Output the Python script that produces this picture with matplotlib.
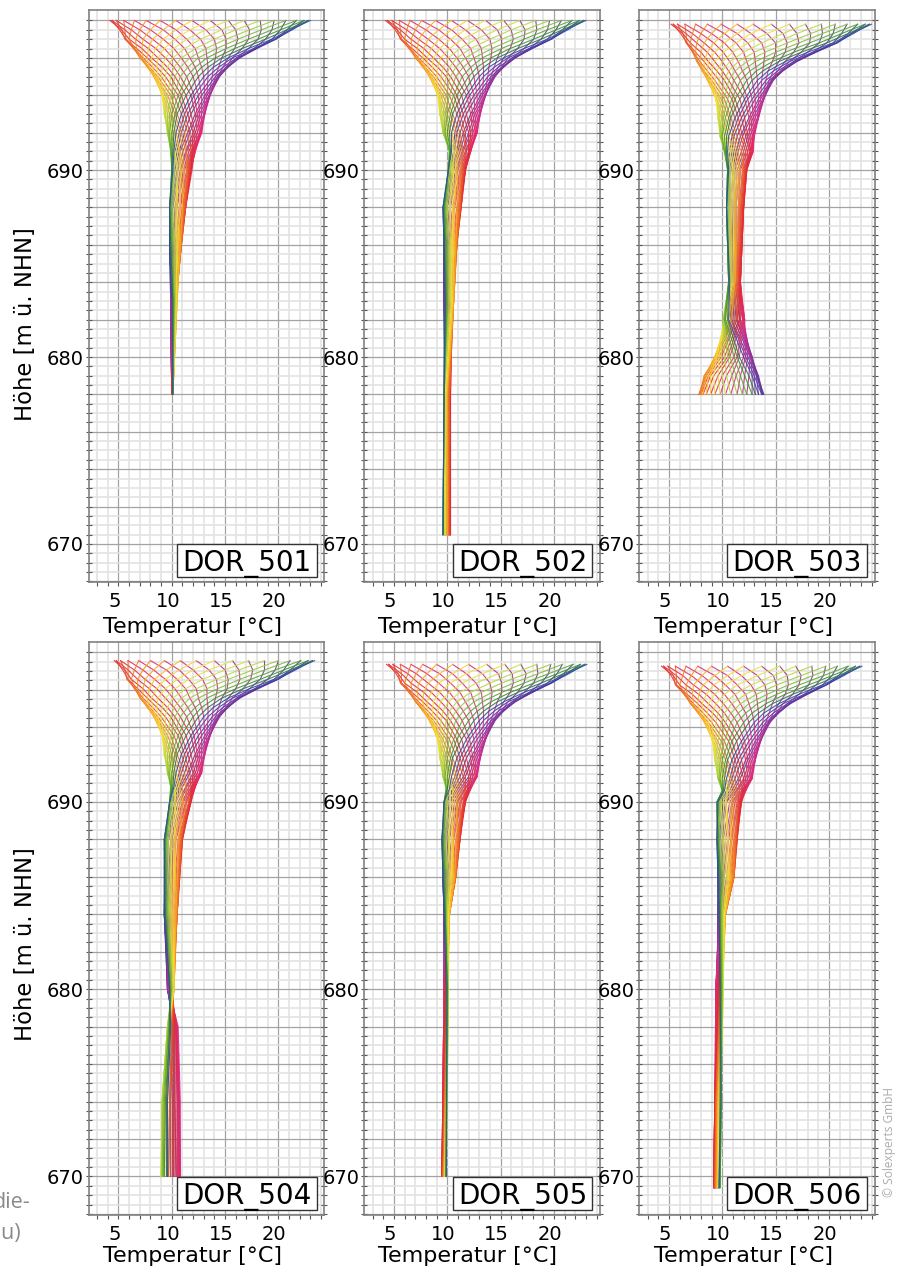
import matplotlib
matplotlib.use("Agg")
import matplotlib.pyplot as plt
from matplotlib.patches import Rectangle
from matplotlib.transforms import ScaledTranslation

W, H = 898, 1268

# Each row: temperature through the annual cycle (half cycle from coldest to warmest
# phase, the second half runs back again), read off the profile envelopes.
SHARED_DEPTHS = [0, 0.5, 1, 1.5, 2, 2.5, 3, 4, 5, 6]
SHARED_LAGS = [0, 1, 2, 3, 4, 5, 6, 8, 10, 12]
SHARED_ROWS = [
    [4.2,4.4,4.8,5.5,6.5,7.6,8.9,10.4,11.9,13.6,15.3,16.8,18.3,19.6,20.7,21.7,22.4,22.8,23.0],
    [5.1,5.3,5.6,6.2,7.0,8.0,9.2,10.4,11.7,13.2,14.7,16.0,17.3,18.4,19.4,20.2,20.8,21.1,21.3],
    [5.6,5.7,6.0,6.6,7.3,8.2,9.2,10.3,11.4,12.7,14.0,15.1,16.2,17.2,18.1,18.8,19.4,19.7,19.8],
    [6.4,6.5,6.7,7.2,7.8,8.5,9.3,10.2,11.2,12.2,13.2,14.2,15.1,15.9,16.6,17.2,17.7,17.9,18.0],
    [7.0,7.1,7.3,7.7,8.1,8.7,9.4,10.1,10.9,11.7,12.5,13.3,14.1,14.7,15.3,15.7,16.1,16.3,16.4],
    [7.7,7.8,7.9,8.2,8.6,9.1,9.6,10.2,10.8,11.5,12.2,12.8,13.4,13.9,14.4,14.8,15.1,15.2,15.3],
    [8.3,8.4,8.5,8.7,9.0,9.4,9.9,10.3,10.8,11.4,12.0,12.5,13.0,13.4,13.8,14.1,14.3,14.4,14.5],
    [9.1,9.1,9.2,9.4,9.6,9.9,10.2,10.6,10.9,11.35,11.8,12.1,12.5,12.8,13.1,13.3,13.5,13.6,13.6],
    [9.3,9.3,9.4,9.6,9.8,10.0,10.3,10.5,10.9,11.2,11.5,11.8,12.2,12.4,12.6,12.8,13.0,13.1,13.1],
    [9.6,9.6,9.7,9.8,10.0,10.2,10.4,10.7,10.9,11.2,11.5,11.7,12.0,12.2,12.4,12.6,12.7,12.8,12.8],
]

NAMES = ["DOR_501", "DOR_502", "DOR_503", "DOR_504", "DOR_505", "DOR_506"]
TOPS = [698.0, 698.0, 697.8, 697.55, 697.35, 697.25]
SHIFTS = [
    [0,0,0,0,0,0,0,0,0,0],
    [0,0,0,0,0,0,0,0,0,0],
    [1.0,1.0,1.0,0.8,0.6,0.4,0.3,0.3,0.3,0.2],
    [0.4,0.3,0.2,0.1,0,0,0,0,0,0],
    [0.1,0.1,0,0,0,0,0,0,0,0],
    [0.1,0.1,0,0,0,0,0,0,0,0],
]

DEEP_HEIGHTS = [
    [691, 690, 688, 686, 683, 678],
    [691, 690, 688, 686, 683, 678, 670.5],
    [691, 690, 688, 684, 682, 680, 679, 678],
    [690.8, 690, 688, 684, 680, 678, 674, 670],
    [690.7, 690, 688, 686, 684, 680, 670],
    [690.6, 690, 688, 686, 684, 680, 674, 669.4],
]
DEEP_LAGS = [
    [14, 16, 18, 20, 24, 28],
    [14, 16, 18, 20, 22, 15, 15],
    [14, 16, 16, 15, 12, 6, 4, 3],
    [14, 16, 18, 20, 24, 11, 11, 11],
    [14, 16, 18, 20, 22, 28, 33],
    [14, 16, 18, 20, 22, 28, 33, 33],
]
DEEP_ROWS = [
    [
        [9.9,9.9,10.0,10.1,10.2,10.3,10.5,10.7,10.8,11.05,11.3,11.4,11.6,11.8,11.9,12.0,12.1,12.2,12.2],
        [10.0,10.0,10.1,10.1,10.2,10.3,10.5,10.6,10.8,10.9,11.1,11.2,11.4,11.5,11.6,11.7,11.8,11.8,11.9],
        [9.8,9.8,9.8,9.9,9.9,10.0,10.1,10.3,10.4,10.5,10.7,10.8,11.0,11.0,11.1,11.2,11.3,11.3,11.3],
        [9.8,9.8,9.8,9.9,9.9,10.0,10.1,10.2,10.3,10.4,10.5,10.5,10.6,10.7,10.8,10.8,10.9,10.9,10.9],
        [9.9,9.9,9.9,9.9,10.0,10.0,10.0,10.1,10.1,10.2,10.2,10.3,10.3,10.4,10.4,10.4,10.4,10.5,10.5],
        [10.0,10.0,10.0,10.0,10.0,10.0,10.0,10.0,10.0,10.0,10.1,10.1,10.1,10.1,10.1,10.1,10.1,10.1,10.1],
    ],
    [
        [10.2,10.2,10.3,10.3,10.4,10.6,10.7,10.9,11.0,11.2,11.4,11.5,11.7,11.8,12.0,12.1,12.1,12.2,12.2],
        [10.1,10.1,10.1,10.2,10.3,10.4,10.5,10.6,10.8,10.9,11.0,11.2,11.3,11.4,11.5,11.6,11.7,11.7,11.7],
        [9.6,9.6,9.7,9.7,9.8,9.9,10.0,10.2,10.3,10.5,10.6,10.7,10.9,11.0,11.1,11.2,11.2,11.3,11.3],
        [9.7,9.7,9.7,9.7,9.8,9.9,10.0,10.1,10.2,10.3,10.4,10.5,10.6,10.7,10.8,10.8,10.9,10.9,10.9],
        [9.7,9.7,9.7,9.7,9.8,9.8,9.9,10.0,10.0,10.1,10.2,10.3,10.4,10.4,10.5,10.5,10.6,10.6,10.6],
        [9.7,9.7,9.7,9.7,9.7,9.8,9.8,9.9,9.9,10.0,10.0,10.1,10.2,10.2,10.2,10.3,10.3,10.3,10.3],
        [9.6,9.6,9.6,9.6,9.7,9.7,9.8,9.8,9.9,10.0,10.0,10.1,10.1,10.2,10.2,10.2,10.3,10.3,10.3],
    ],
    [
        [10.2,10.2,10.3,10.4,10.5,10.7,10.9,11.1,11.3,11.5,11.8,12.0,12.2,12.4,12.6,12.7,12.8,12.9,12.9],
        [10.5,10.5,10.6,10.6,10.7,10.8,11.0,11.1,11.2,11.4,11.6,11.7,11.9,12.0,12.1,12.2,12.2,12.3,12.3],
        [10.4,10.4,10.4,10.5,10.6,10.7,10.8,10.9,11.1,11.2,11.3,11.5,11.6,11.7,11.8,11.9,12.0,12.0,12.0],
        [10.6,10.6,10.6,10.7,10.7,10.8,10.9,11.0,11.1,11.2,11.2,11.3,11.4,11.5,11.6,11.6,11.7,11.7,11.7],
        [10.1,10.1,10.2,10.2,10.3,10.5,10.6,10.8,10.9,11.1,11.3,11.4,11.6,11.7,11.9,12.0,12.0,12.1,12.1],
        [9.3,9.3,9.4,9.5,9.7,9.9,10.2,10.5,10.7,11.1,11.4,11.6,12.0,12.2,12.4,12.6,12.7,12.8,12.8],
        [8.3,8.4,8.5,8.7,8.9,9.2,9.6,10.0,10.4,10.9,11.3,11.7,12.1,12.5,12.8,13.0,13.2,13.3,13.4],
        [7.8,7.9,8.0,8.2,8.5,8.9,9.3,9.8,10.3,10.8,11.4,11.9,12.3,12.8,13.1,13.4,13.7,13.8,13.9],
    ],
    [
        [9.9,9.9,10.0,10.1,10.2,10.3,10.5,10.7,10.8,11.0,11.3,11.4,11.6,11.8,11.9,12.0,12.1,12.2,12.2],
        [9.8,9.8,9.8,9.9,10.0,10.1,10.3,10.4,10.6,10.8,11.0,11.1,11.3,11.4,11.6,11.7,11.7,11.8,11.8],
        [9.3,9.3,9.4,9.4,9.5,9.6,9.7,9.9,10.0,10.2,10.3,10.4,10.6,10.7,10.8,10.9,10.9,11.0,11.0],
        [9.3,9.3,9.3,9.4,9.4,9.5,9.6,9.7,9.8,9.9,10.0,10.1,10.2,10.3,10.4,10.4,10.5,10.5,10.5],
        [9.6,9.6,9.6,9.6,9.7,9.7,9.8,9.8,9.8,9.9,10.0,10.0,10.1,10.1,10.1,10.2,10.2,10.2,10.2],
        [9.6,9.6,9.6,9.7,9.7,9.8,9.8,9.9,10.0,10.1,10.2,10.2,10.3,10.4,10.4,10.5,10.5,10.5,10.6],
        [9.1,9.1,9.1,9.2,9.3,9.4,9.5,9.6,9.8,9.9,10.1,10.2,10.3,10.5,10.6,10.6,10.7,10.7,10.8],
        [9.0,9.0,9.1,9.1,9.2,9.3,9.5,9.6,9.7,9.9,10.1,10.2,10.4,10.5,10.6,10.7,10.7,10.8,10.8],
    ],
    [
        [9.9,9.9,10.0,10.0,10.2,10.3,10.5,10.6,10.8,11.0,11.2,11.4,11.6,11.7,11.9,12.0,12.1,12.2,12.2],
        [9.7,9.7,9.7,9.8,9.9,10.0,10.2,10.3,10.5,10.7,10.9,11.0,11.2,11.3,11.5,11.6,11.6,11.7,11.7],
        [9.5,9.5,9.6,9.6,9.7,9.8,9.9,10.1,10.2,10.4,10.5,10.6,10.8,10.9,11.0,11.1,11.1,11.2,11.2],
        [9.6,9.6,9.6,9.6,9.7,9.8,9.9,10.0,10.1,10.2,10.3,10.4,10.5,10.6,10.7,10.7,10.8,10.8,10.8],
        [9.7,9.7,9.7,9.7,9.7,9.8,9.8,9.8,9.9,9.9,10.0,10.0,10.1,10.1,10.1,10.2,10.2,10.2,10.2],
        [9.7,9.7,9.7,9.7,9.7,9.7,9.8,9.8,9.8,9.9,9.9,10.0,10.0,10.0,10.0,10.1,10.1,10.1,10.1],
        [9.5,9.5,9.5,9.5,9.5,9.6,9.6,9.6,9.7,9.7,9.7,9.8,9.8,9.8,9.9,9.9,9.9,9.9,9.9],
    ],
    [
        [10.0,10.0,10.0,10.1,10.2,10.4,10.5,10.7,10.9,11.1,11.3,11.4,11.6,11.8,11.9,12.0,12.1,12.2,12.2],
        [9.5,9.5,9.6,9.7,9.8,9.9,10.1,10.3,10.4,10.7,10.9,11.0,11.2,11.4,11.5,11.6,11.7,11.8,11.8],
        [9.5,9.5,9.6,9.6,9.7,9.8,10.0,10.1,10.3,10.5,10.6,10.8,10.9,11.1,11.2,11.3,11.3,11.4,11.4],
        [9.6,9.6,9.6,9.7,9.8,9.9,10.0,10.1,10.2,10.4,10.5,10.6,10.7,10.8,10.9,11.0,11.1,11.1,11.1],
        [9.6,9.6,9.6,9.7,9.7,9.7,9.8,9.8,9.9,10.0,10.0,10.1,10.1,10.2,10.2,10.3,10.3,10.3,10.3],
        [9.4,9.4,9.4,9.4,9.5,9.5,9.6,9.6,9.7,9.7,9.8,9.8,9.9,9.9,10.0,10.0,10.0,10.1,10.1],
        [9.3,9.3,9.3,9.3,9.4,9.4,9.4,9.5,9.5,9.6,9.6,9.7,9.7,9.8,9.8,9.8,9.9,9.9,9.9],
        [9.2,9.2,9.2,9.2,9.3,9.3,9.3,9.4,9.4,9.5,9.5,9.6,9.6,9.7,9.7,9.7,9.7,9.8,9.8],
    ],
]

COLORS = ['#e02c2c','#e53a2a','#e84e26','#ec6422','#f07a1e','#f4921c','#f8aa1e','#fac020','#f8d52a',
          '#f4e232','#e4e23c','#cede42','#b8d640','#9ccc3c','#7cbc36','#5aa832','#3c962e','#2e7a46',
          '#2e4fa0','#34459f','#3c3ca0','#4a38a0','#5a349e','#6c329e','#80309c','#92309a','#a22e98',
          '#b22c94','#c42b90','#d22a8a','#da2a82','#e02a78','#e42a6a','#e42a5a','#e42a48','#e22a38']
DRAW_ORDER = list(range(19, 36)) + list(range(0, 19))

X_LABEL_TICKS = [5, 10, 15, 20]
Y_LABEL_TICKS = [670, 680, 690]
XLIM = (2.19, 24.28)
YLIM = (667.94, 698.56)

PANEL_LEFT = [88.5, 364, 639]
PANEL_W = 235.5
ROW_SPAN = [(10, 582.5), (641.7, 1215)]
BOX_W = [139.7, 139.0, 140.0]


def at(row, k):
    k %= 36
    return row[min(k, 36 - k)]


fig = plt.figure(figsize=(W / 100, H / 100), dpi=100, facecolor='white')

for p in range(6):
    r, c = p // 3, p % 3
    top, bottom = ROW_SPAN[r]
    left = PANEL_LEFT[c]
    ax = fig.add_axes([left / W, 1 - bottom / H, PANEL_W / W, (bottom - top) / H])
    ax.set_xlim(XLIM)
    ax.set_ylim(YLIM)
    ax.set_axisbelow(True)

    ax.set_xticks(X_LABEL_TICKS)
    ax.set_xticks([v for v in range(3, 25) if v % 5], minor=True)
    ax.set_yticks(list(range(668, 699, 2)))
    ax.set_yticklabels([str(v) if v in Y_LABEL_TICKS else '' for v in range(668, 699, 2)])
    ax.set_yticks([668 + 0.5 * n for n in range(61) if n % 4], minor=True)
    ax.grid(True, which='minor', color='#e3e3e3', lw=1.2)
    ax.grid(True, which='major', color='#a3a3a3', lw=0.9)
    ax.tick_params(axis='x', which='both', labelsize=14, length=3, width=0.8, color='#555555',
                   pad=4, direction='out')
    ax.tick_params(axis='y', which='both', labelsize=14, length=4, width=0.8, color='#555555',
                   pad=1.5, direction='inout', right=True)
    for lab in ax.get_xticklabels():
        lab.set_transform(lab.get_transform() + ScaledTranslation(-0.04, 0, fig.dpi_scale_trans))
    for s in ax.spines.values():
        s.set_color('#808080')
        s.set_linewidth(1.2)

    for i in DRAW_ORDER:
        ts, hs = [], []
        for d, lag, row, sh in zip(SHARED_DEPTHS, SHARED_LAGS, SHARED_ROWS, SHIFTS[p]):
            ts.append(at(row, i - lag) + sh)
            hs.append(TOPS[p] - d)
        for h, lag, row in zip(DEEP_HEIGHTS[p], DEEP_LAGS[p], DEEP_ROWS[p]):
            ts.append(at(row, i - lag))
            hs.append(h)
        ax.plot(ts, hs, color=COLORS[i], lw=0.8, alpha=0.9, solid_joinstyle='round', zorder=3)

    bw = BOX_W[c]
    bh = 33 / (bottom - top)
    y0 = 5 / (bottom - top)
    x0 = (PANEL_W - 7.3 - bw) / PANEL_W
    ax.add_patch(Rectangle((x0, y0), bw / PANEL_W, bh, transform=ax.transAxes, facecolor='white',
                           edgecolor='#333333', lw=1.0, zorder=5))
    ax.text(x0 + bw / PANEL_W / 2, y0 + bh / 2, NAMES[p], transform=ax.transAxes, ha='center',
            va='center_baseline', fontsize=20, color='black', zorder=6)

    fig.text((left + 104) / W, 1 - (627 if r == 0 else 1256) / H, 'Temperatur [°C]', ha='center',
             va='center', fontsize=16, color='black')

for yc in (324, 944):
    fig.text(26 / W, 1 - yc / H, 'Höhe [m ü. NHN]', rotation=90, ha='center', va='center',
             fontsize=16.4, color='black')

fig.text(30 / W, 1 - 1203 / H, 'die-', ha='right', va='center', fontsize=15.5, color='#8a8a8a',
         family='Open Sans')
fig.text(21 / W, 1 - 1233 / H, 'au)', ha='right', va='center', fontsize=15.5, color='#8a8a8a',
         family='Open Sans')
fig.text(889 / W, 1 - 1142 / H, '© Solexperts GmbH', rotation=90, ha='center', va='center',
         fontsize=8.6, color='#ababab', family='Open Sans')

fig.savefig('out.png', dpi=100)
